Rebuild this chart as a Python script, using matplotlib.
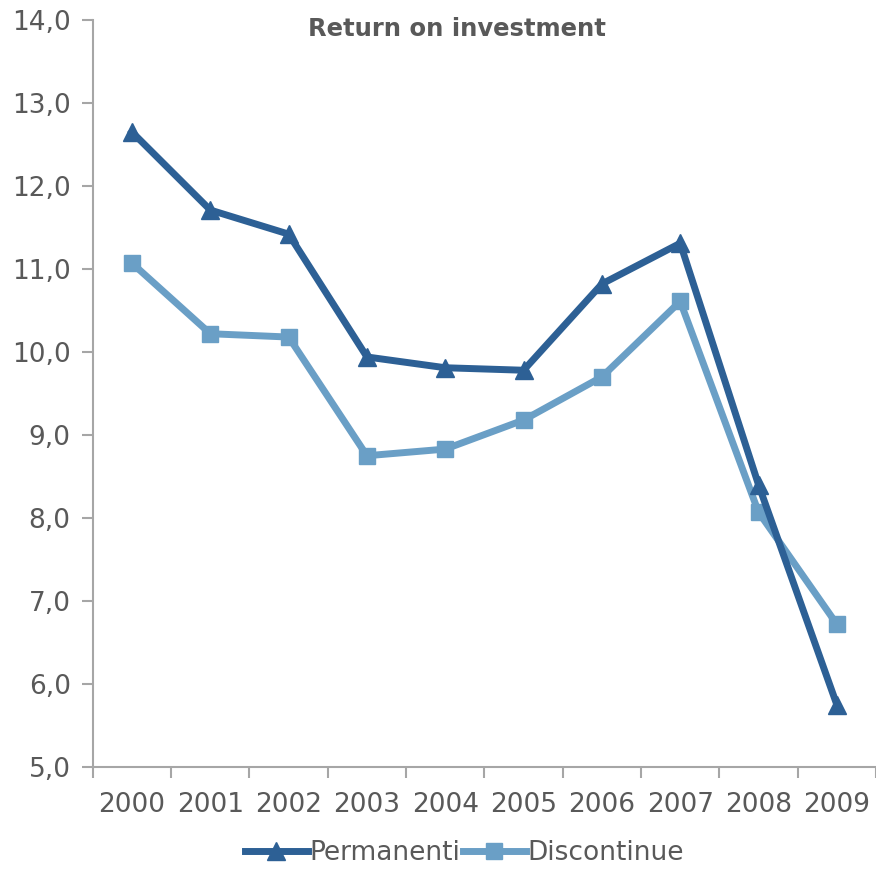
import numpy as np
import matplotlib
matplotlib.use('Agg')
import matplotlib.pyplot as plt
from matplotlib.ticker import FuncFormatter

years = ['2000', '2001', '2002', '2003', '2004', '2005', '2006', '2007', '2008', '2009']
permanenti = [12.65, 11.71, 11.42, 9.94, 9.81, 9.78, 10.82, 11.31, 8.40, 5.75]
discontinue = [11.07, 10.22, 10.18, 8.75, 8.83, 9.18, 9.70, 10.61, 8.07, 6.72]

plt.rcParams['font.family'] = ['DejaVu Sans']
grey = '#595959'
axis_grey = '#a6a6a6'

fig = plt.figure(figsize=(8.76, 8.69), dpi=100)
ax = fig.add_axes([0.106, 0.1174, 0.894, 0.8596])

x = np.arange(len(years))
ax.plot(x, permanenti, color='#2d6095', lw=5, marker='^', ms=13, label='Permanenti', zorder=3)
ax.plot(x, discontinue, color='#6a9fc6', lw=5, marker='s', ms=12, label='Discontinue', zorder=2)

ax.set_xlim(-0.5, 9.5)
ax.set_ylim(5, 14)
ax.set_yticks(np.arange(5, 14.1, 1))
ax.yaxis.set_major_formatter(FuncFormatter(lambda v, p: f'{v:.1f}'.replace('.', ',')))
ax.set_xticks(x)
ax.set_xticklabels(years)
ax.set_xticks(np.arange(-0.5, 9.6, 1), minor=True)
ax.tick_params(axis='x', which='major', length=0, pad=18, labelsize=19, labelcolor=grey)
ax.tick_params(axis='x', which='minor', length=8, width=1.5, color=axis_grey, direction='out')
ax.tick_params(axis='y', length=8, width=1.5, color=axis_grey, labelsize=19, labelcolor=grey, pad=8)

for s in ['top', 'right']:
    ax.spines[s].set_visible(False)
for s in ['left', 'bottom']:
    ax.spines[s].set_color(axis_grey)
    ax.spines[s].set_linewidth(1.5)

ax.set_title('Return on investment', fontsize=17.5, fontweight='bold', color=grey, y=0.968, x=0.465)

fig.legend(loc='center', bbox_to_anchor=(0.53, 0.018), ncol=2, frameon=False,
           fontsize=19, handlelength=2.4, columnspacing=0.1, handletextpad=0.05,
           labelcolor=grey)

fig.savefig('out.png', dpi=100)
